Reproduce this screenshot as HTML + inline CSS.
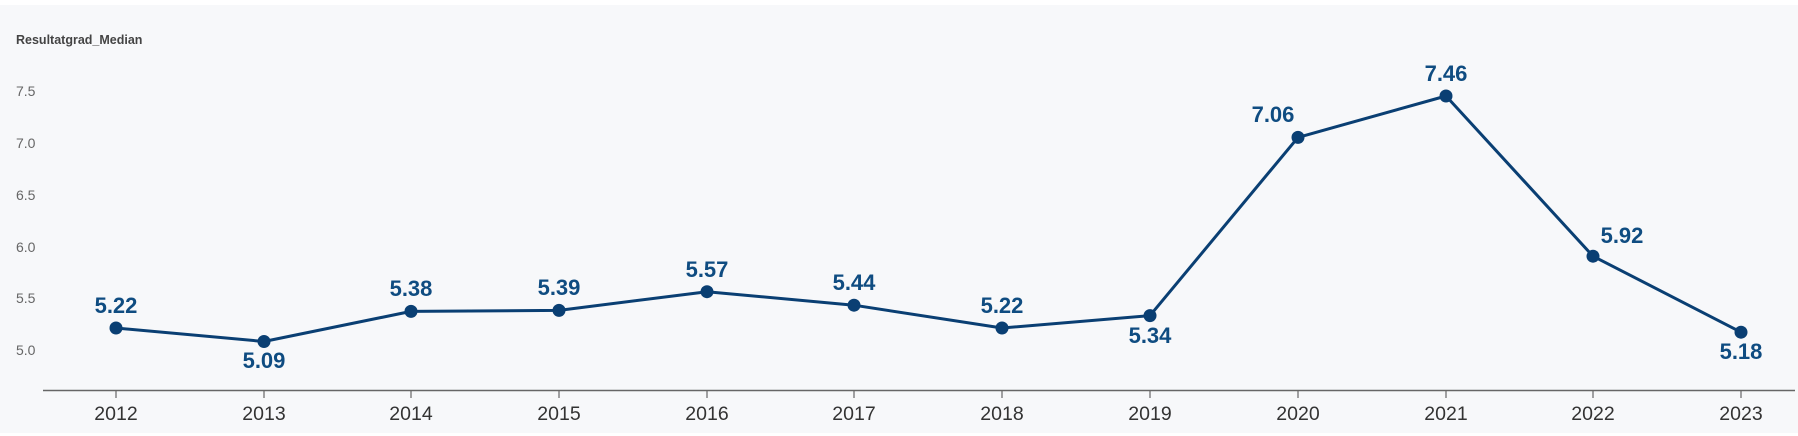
<!DOCTYPE html>
<html><head><style>
html,body{margin:0;padding:0;background:#fff;}
svg{display:block;}
</style></head><body>
<svg width="1798" height="436" xmlns="http://www.w3.org/2000/svg" font-family="Liberation Sans, sans-serif">
<rect x="0" y="5" width="1798" height="428" fill="#f7f8fa"/>
<text x="16" y="44" font-size="12.5" font-weight="bold" fill="#444">Resultatgrad_Median</text>
<g font-size="14" fill="#666">
<text x="16" y="96">7.5</text>
<text x="16" y="148">7.0</text>
<text x="16" y="200">6.5</text>
<text x="16" y="252">6.0</text>
<text x="16" y="303">5.5</text>
<text x="16" y="355">5.0</text>
</g>
<line x1="43" y1="390.5" x2="1795" y2="390.5" stroke="#666" stroke-width="1.5"/>
<g stroke="#666" stroke-width="1.2">
<line x1="116" y1="390" x2="116" y2="398"/><line x1="264" y1="390" x2="264" y2="398"/>
<line x1="411" y1="390" x2="411" y2="398"/><line x1="559" y1="390" x2="559" y2="398"/>
<line x1="707" y1="390" x2="707" y2="398"/><line x1="854" y1="390" x2="854" y2="398"/>
<line x1="1002" y1="390" x2="1002" y2="398"/><line x1="1150" y1="390" x2="1150" y2="398"/>
<line x1="1298" y1="390" x2="1298" y2="398"/><line x1="1446" y1="390" x2="1446" y2="398"/>
<line x1="1593" y1="390" x2="1593" y2="398"/><line x1="1741" y1="390" x2="1741" y2="398"/>
</g>
<g font-size="19.5" fill="#333" text-anchor="middle">
<text x="116" y="420">2012</text><text x="264" y="420">2013</text><text x="411" y="420">2014</text>
<text x="559" y="420">2015</text><text x="707" y="420">2016</text><text x="854" y="420">2017</text>
<text x="1002" y="420">2018</text><text x="1150" y="420">2019</text><text x="1298" y="420">2020</text>
<text x="1446" y="420">2021</text><text x="1593" y="420">2022</text><text x="1741" y="420">2023</text>
</g>
<polyline fill="none" stroke="#0a3f73" stroke-width="3" stroke-linejoin="round" points="116,328 264,341.5 411,311.4 559,310.4 707,291.7 854,305.2 1002,328 1150,315.6 1298,137.4 1446,96 1593,256.2 1741,332.2"/>
<g fill="#0a3f73">
<circle cx="116" cy="328" r="6.5"/><circle cx="264" cy="341.5" r="6.5"/><circle cx="411" cy="311.4" r="6.5"/>
<circle cx="559" cy="310.4" r="6.5"/><circle cx="707" cy="291.7" r="6.5"/><circle cx="854" cy="305.2" r="6.5"/>
<circle cx="1002" cy="328" r="6.5"/><circle cx="1150" cy="315.6" r="6.5"/><circle cx="1298" cy="137.4" r="6.5"/>
<circle cx="1446" cy="96" r="6.5"/><circle cx="1593" cy="256.2" r="6.5"/><circle cx="1741" cy="332.2" r="6.5"/>
</g>
<g font-size="22" font-weight="bold" fill="#0f4c81" text-anchor="middle">
<text x="116" y="313">5.22</text>
<text x="264" y="368">5.09</text>
<text x="411" y="296">5.38</text>
<text x="559" y="295">5.39</text>
<text x="707" y="277">5.57</text>
<text x="854" y="290">5.44</text>
<text x="1002" y="313">5.22</text>
<text x="1150" y="343">5.34</text>
<text x="1273" y="122">7.06</text>
<text x="1446" y="81">7.46</text>
<text x="1622" y="243">5.92</text>
<text x="1741" y="359">5.18</text>
</g>
</svg>
</body></html>
